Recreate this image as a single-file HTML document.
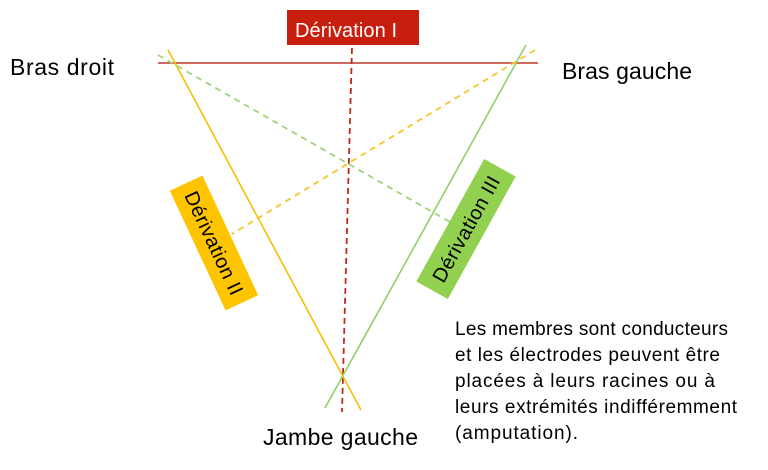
<!DOCTYPE html>
<html><head><meta charset="utf-8"><style>
html,body{margin:0;padding:0;background:#fff;}
svg{display:block;font-family:"Liberation Sans",sans-serif;}
</style></head><body>
<svg width="768" height="470" viewBox="0 0 768 470" xmlns="http://www.w3.org/2000/svg">
<rect width="768" height="470" fill="#fff"/>
<line x1="158" y1="63" x2="538" y2="63" stroke="#c0392b" stroke-width="1.6"/>
<line x1="352" y1="48" x2="342" y2="412" stroke="#c0281c" stroke-width="1.8" stroke-dasharray="6,4"/>
<line x1="168" y1="50" x2="361" y2="410" stroke="#f5c000" stroke-width="1.6"/>
<line x1="526" y1="45" x2="325" y2="408" stroke="#8fd06a" stroke-width="1.6"/>
<line x1="158" y1="55" x2="450" y2="222" stroke="#9fd37a" stroke-width="1.8" stroke-dasharray="6,5"/>
<line x1="535" y1="50" x2="232" y2="234" stroke="#f7c42a" stroke-width="1.8" stroke-dasharray="6,5"/>
<rect x="287" y="10" width="132" height="35" fill="#c81e0e"/>
<text x="295" y="37" font-size="20" fill="#fff" textLength="102">Dérivation I</text>
<g transform="translate(214,243) rotate(65)">
<rect x="-66" y="-18" width="132" height="36" fill="#ffc400"/>
<text x="0" y="7" font-size="20" fill="#000" text-anchor="middle" textLength="112">Dérivation II</text>
</g>
<g transform="translate(466,229) rotate(-61)">
<rect x="-70" y="-18" width="140" height="36" fill="#92d050"/>
<text x="0" y="7" font-size="20" fill="#000" text-anchor="middle" textLength="118">Dérivation III</text>
</g>
<text x="10" y="75" font-size="23" fill="#000" textLength="104">Bras droit</text>
<text x="562" y="79" font-size="23" fill="#000" textLength="130">Bras gauche</text>
<text x="263" y="445" font-size="23" fill="#000" textLength="155">Jambe gauche</text>
<g font-size="19" fill="#000">
<text x="455" y="335" textLength="273">Les membres sont conducteurs</text>
<text x="455" y="361" textLength="265">et les électrodes peuvent être</text>
<text x="455" y="387" textLength="260">placées à leurs racines ou à</text>
<text x="455" y="413" textLength="282">leurs extrémités indifféremment</text>
<text x="455" y="439" textLength="123">(amputation).</text>
</g>
</svg>
</body></html>
